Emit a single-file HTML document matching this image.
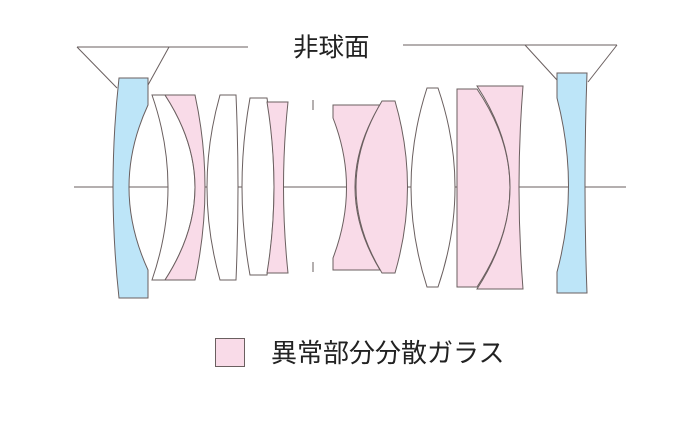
<!DOCTYPE html>
<html><head><meta charset="utf-8"><style>
html,body{margin:0;padding:0;background:#fff;}
svg{display:block;}
text{font-family:"Liberation Sans","Noto Sans CJK JP",sans-serif;fill:#222;}
</style></head><body>
<svg width="700" height="424" viewBox="0 0 700 424" xmlns="http://www.w3.org/2000/svg">
<g stroke="#6a5f5f" stroke-width="1" fill="none">
<line x1="74" y1="187" x2="626" y2="187"/>
<line x1="77" y1="47" x2="248" y2="47"/>
<line x1="77" y1="47" x2="117" y2="88"/>
<line x1="169" y1="47" x2="148" y2="85"/>
<line x1="403" y1="45" x2="617" y2="45"/>
<line x1="525" y1="45" x2="557" y2="80"/>
<line x1="617" y1="45" x2="588" y2="82"/>
<line x1="313" y1="100" x2="313" y2="110"/>
<line x1="313" y1="262" x2="313" y2="272"/>
</g>
<g stroke="#6a5f5f" stroke-width="1">
<path d="M119,78 L148,78 L148,105 Q110,187 148,270 L148,298 L119,298 Q107,187 119,78 Z" fill="#bde5f8"/>
<path d="M165,95 Q225,187 165,280 L152,280 Q184,187 152,95 Z" fill="#fff"/>
<path d="M165,95 L195,95 Q215,187 195,280 L165,280 Q225,187 165,95 Z" fill="#f9dbe8"/>
<path d="M220,95 L236,95 Q240,187 236,280 L220,280 Q194,187 220,95 Z" fill="#fff"/>
<path d="M250,98 L267,98 Q281,187 267,275 L250,275 Q234,187 250,98 Z" fill="#fff"/>
<path d="M267,102 L288,102 Q279,187 288,273 L267,273 Q281,187 267,102 Z" fill="#f9dbe8"/>
<path d="M333,105 L380,105 Q330,187 380,270 L333,270 L333,258 Q360,187 333,118 Z" fill="#f9dbe8"/>
<path d="M382,101 L395,101 Q420,187 395,273 L382,273 Q330,187 382,101 Z" fill="#f9dbe8"/>
<path d="M427,88 L438,88 Q472,187 438,287 L427,287 Q395,187 427,88 Z" fill="#fff"/>
<path d="M457,89 L477,89 Q543,187 477,287 L457,287 Z" fill="#f9dbe8"/>
<path d="M477,86 L523,86 Q515,187 523,289 L477,289 Q543,187 477,86 Z" fill="#f9dbe8"/>
<path d="M557,73 L587,73 Q583,187 587,293 L557,293 L557,272 Q580,187 557,98 Z" fill="#bde5f8"/>
<rect x="215.5" y="338.5" width="29" height="28" fill="#f9dbe8"/>
</g>
<text x="293" y="56" font-size="25.5">非球面</text>
<text x="271" y="362" font-size="26">異常部分分散ガラス</text>
</svg>
</body></html>
